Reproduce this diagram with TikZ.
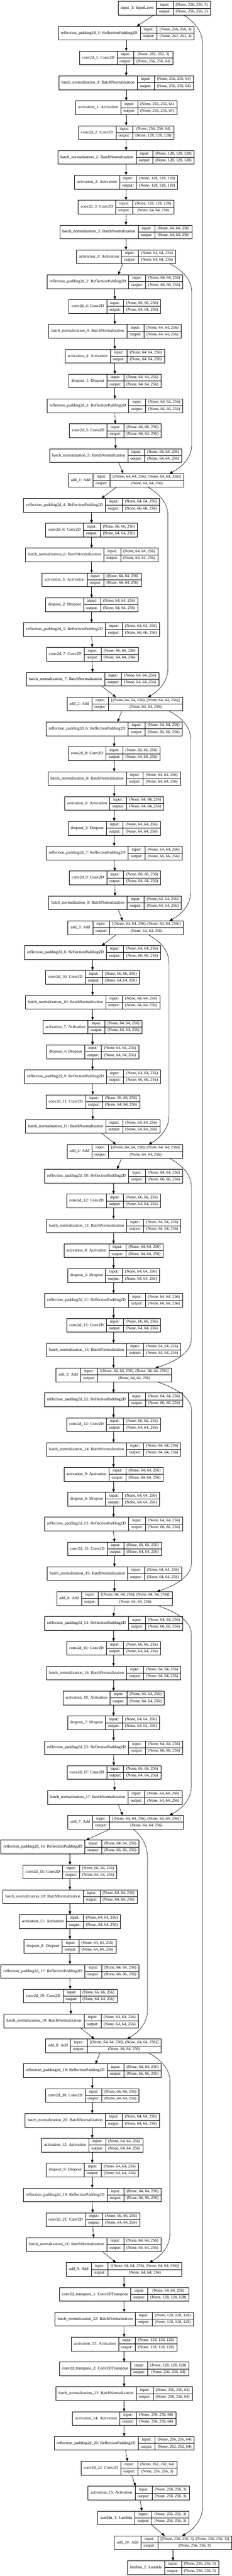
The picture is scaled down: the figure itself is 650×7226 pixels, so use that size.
\documentclass[tikz,border=0pt]{standalone}
\usepackage{fontspec}
\setmainfont{Liberation Serif}
\usetikzlibrary{arrows.meta,calc}
\newdimen\recwa \newdimen\recwb \newdimen\recwc \newdimen\recwt \newdimen\recws \newdimen\recwab
\newbox\recbox
\newcommand\lf{\fontsize{11.4}{13.7}\selectfont}
\def\sA{(None, 64, 64, 256)}
\def\sB{(None, 66, 66, 256)}
\def\sAdd{[(None, 64, 64, 256), (None, 64, 64, 256)]}
% measuring pass (outside the picture, where fonts are active)
\newcommand\measurelayer[6]{%
  \setbox\recbox=\hbox{\lf #4}\recwa=\wd\recbox \advance\recwa by 15pt
  \setbox\recbox=\hbox{\lf output:}\recwb=\wd\recbox \advance\recwb by 15pt
  \setbox\recbox=\hbox{\lf #5}\recwc=\wd\recbox
  \setbox\recbox=\hbox{\lf #6}\ifdim\wd\recbox>\recwc \recwc=\wd\recbox \fi
  \advance\recwc by 15pt
  \expandafter\xdef\csname rwa@#1\endcsname{\the\recwa}%
  \recws=\dimexpr\recwa+\recwb+\recwc\relax
  \expandafter\xdef\csname rws@#1\endcsname{\the\recws}%
  \recwab=\dimexpr\recwa+\recwb\relax
  \expandafter\xdef\csname rwab@#1\endcsname{\the\recwab}%
  \recwt=\dimexpr\recwa/2\relax
  \expandafter\xdef\csname rxa@#1\endcsname{\the\recwt}%
  \recwt=\dimexpr\recwa+\recwb/2\relax
  \expandafter\xdef\csname rxb@#1\endcsname{\the\recwt}%
  \recwt=\dimexpr\recwab+\recwc/2\relax
  \expandafter\xdef\csname rxc@#1\endcsname{\the\recwt}%
}
% drawing pass
\newcommand\drawlayer[6]{%
  \edef\rwa{\csname rwa@#1\endcsname}%
  \edef\rws{\csname rws@#1\endcsname}%
  \edef\rwab{\csname rwab@#1\endcsname}%
  \edef\rxa{\csname rxa@#1\endcsname}%
  \edef\rxb{\csname rxb@#1\endcsname}%
  \edef\rxc{\csname rxc@#1\endcsname}%
  \pgfmathsetmacro\yy{23.2+69.7*#3}%
  \node[rec, minimum width=\rws] (#1) at (#2,\yy) {};%
  \draw[recl] ([xshift=\rwa]#1.north west) -- ([xshift=\rwa]#1.south west);%
  \draw[recl] ([xshift=\rwab]#1.north west) -- ([xshift=\rwab]#1.south west);%
  \draw[recl] ([xshift=\rwa]#1.west) -- (#1.east);%
  \node[txt] at ([xshift=\rxa]#1.west) {#4};%
  \node[txt] at ([xshift=\rxb,yshift=9.6pt]#1.west) {input:};%
  \node[txt] at ([xshift=\rxb,yshift=-9.6pt]#1.west) {output:};%
  \node[txt] at ([xshift=\rxc,yshift=9.6pt]#1.west) {#5};%
  \node[txt] at ([xshift=\rxc,yshift=-9.6pt]#1.west) {#6};%
}
\newcommand\ed[2]{\draw[arr] (#1.south) -- (#2.north);}
\newcommand\eds[4]{\draw[arr] ([xshift=#2]#1.south) -- ([xshift=#4]#3.north);}
\newcommand\skipedge[6]{%
  \coordinate (sa) at ([xshift=#2]#1.south);
  \coordinate (sb) at ([xshift=#4]#3.north);
  \draw[arr] (sa) .. controls ($(sa)+({0.5*#5},16)$) and ($(sa)+(#5,42)$) .. ($(sa)+(#5,80)$)
     -- ($(sb)+(#6,-80)$) .. controls ($(sb)+(#6,-42)$) and ($(sb)+({0.5*#6},-16)$) .. (sb);
}
\def\alllayers{%
\layer{in1}{460.4}{0}{input\_1: InputLayer}{(None, 256, 256, 3)}{(None, 256, 256, 3)}
\layer{rp1}{353.8}{1}{reflection\_padding2d\_1: ReflectionPadding2D}{(None, 256, 256, 3)}{(None, 262, 262, 3)}
\layer{cv1}{353.8}{2}{conv2d\_1: Conv2D}{(None, 262, 262, 3)}{(None, 256, 256, 64)}
\layer{bn1}{353.8}{3}{batch\_normalization\_1: BatchNormalization}{(None, 256, 256, 64)}{(None, 256, 256, 64)}
\layer{ac1}{353.8}{4}{activation\_1: Activation}{(None, 256, 256, 64)}{(None, 256, 256, 64)}
\layer{cv2}{353.8}{5}{conv2d\_2: Conv2D}{(None, 256, 256, 64)}{(None, 128, 128, 128)}
\layer{bn2}{353.3}{6}{batch\_normalization\_2: BatchNormalization}{(None, 128, 128, 128)}{(None, 128, 128, 128)}
\layer{ac2}{353.3}{7}{activation\_2: Activation}{(None, 128, 128, 128)}{(None, 128, 128, 128)}
\layer{cv3}{353.1}{8}{conv2d\_3: Conv2D}{(None, 128, 128, 128)}{(None, 64, 64, 256)}
\layer{bn3}{353.1}{9}{batch\_normalization\_3: BatchNormalization}{\sA}{\sA}
\layer{ac3}{353.1}{10}{activation\_3: Activation}{\sA}{\sA}
\layer{rp2}{321.9}{11}{reflection\_padding2d\_2: ReflectionPadding2D}{\sA}{\sB}
\layer{cv4}{321.9}{12}{conv2d\_4: Conv2D}{\sB}{\sA}
\layer{bn4}{321.9}{13}{batch\_normalization\_4: BatchNormalization}{\sA}{\sA}
\layer{ac4}{321.9}{14}{activation\_4: Activation}{\sA}{\sA}
\layer{dr1}{321.9}{15}{dropout\_1: Dropout}{\sA}{\sA}
\layer{rp3}{321.9}{16}{reflection\_padding2d\_3: ReflectionPadding2D}{\sA}{\sB}
\layer{cv5}{323}{17}{conv2d\_5: Conv2D}{\sB}{\sA}
\layer{bn5}{324.2}{18}{batch\_normalization\_5: BatchNormalization}{\sA}{\sA}
\layer{ad1}{353.1}{19}{add\_1: Add}{\sAdd}{\sA}
\layer{rp4}{256.7}{20}{reflection\_padding2d\_4: ReflectionPadding2D}{\sA}{\sB}
\layer{cv6}{256.7}{21}{conv2d\_6: Conv2D}{\sB}{\sA}
\layer{bn6}{256.7}{22}{batch\_normalization\_6: BatchNormalization}{\sA}{\sA}
\layer{ac5}{256.7}{23}{activation\_5: Activation}{\sA}{\sA}
\layer{dr2}{256.7}{24}{dropout\_2: Dropout}{\sA}{\sA}
\layer{rp5}{256.7}{25}{reflection\_padding2d\_5: ReflectionPadding2D}{\sA}{\sB}
\layer{cv7}{258.7}{26}{conv2d\_7: Conv2D}{\sB}{\sA}
\layer{bn7}{259.4}{27}{batch\_normalization\_7: BatchNormalization}{\sA}{\sA}
\layer{ad2}{349.6}{28}{add\_2: Add}{\sAdd}{\sA}
\layer{rp6}{320}{29}{reflection\_padding2d\_6: ReflectionPadding2D}{\sA}{\sB}
\layer{cv8}{320}{30}{conv2d\_8: Conv2D}{\sB}{\sA}
\layer{bn8}{320}{31}{batch\_normalization\_8: BatchNormalization}{\sA}{\sA}
\layer{ac6}{320}{32}{activation\_6: Activation}{\sA}{\sA}
\layer{dr3}{320}{33}{dropout\_3: Dropout}{\sA}{\sA}
\layer{rp7}{320}{34}{reflection\_padding2d\_7: ReflectionPadding2D}{\sA}{\sB}
\layer{cv9}{322}{35}{conv2d\_9: Conv2D}{\sB}{\sA}
\layer{bn9}{322.5}{36}{batch\_normalization\_9: BatchNormalization}{\sA}{\sA}
\layer{ad3}{352.3}{37}{add\_3: Add}{\sAdd}{\sA}
\layer{rp8}{259.4}{38}{reflection\_padding2d\_8: ReflectionPadding2D}{\sA}{\sB}
\layer{cv10}{259.4}{39}{conv2d\_10: Conv2D}{\sB}{\sA}
\layer{bn10}{259.4}{40}{batch\_normalization\_10: BatchNormalization}{\sA}{\sA}
\layer{ac7}{259.4}{41}{activation\_7: Activation}{\sA}{\sA}
\layer{dr4}{259.4}{42}{dropout\_4: Dropout}{\sA}{\sA}
\layer{rp9}{259.4}{43}{reflection\_padding2d\_9: ReflectionPadding2D}{\sA}{\sB}
\layer{cv11}{260.2}{44}{conv2d\_11: Conv2D}{\sB}{\sA}
\layer{bn11}{260}{45}{batch\_normalization\_11: BatchNormalization}{\sA}{\sA}
\layer{ad4}{349.6}{46}{add\_4: Add}{\sAdd}{\sA}
\layer{rp10}{318.3}{47}{reflection\_padding2d\_10: ReflectionPadding2D}{\sA}{\sB}
\layer{cv12}{318.3}{48}{conv2d\_12: Conv2D}{\sB}{\sA}
\layer{bn12}{318.3}{49}{batch\_normalization\_12: BatchNormalization}{\sA}{\sA}
\layer{ac8}{318.3}{50}{activation\_8: Activation}{\sA}{\sA}
\layer{dr5}{318.3}{51}{dropout\_5: Dropout}{\sA}{\sA}
\layer{rp11}{318.3}{52}{reflection\_padding2d\_11: ReflectionPadding2D}{\sA}{\sB}
\layer{cv13}{318.3}{53}{conv2d\_13: Conv2D}{\sB}{\sA}
\layer{bn13}{318.3}{54}{batch\_normalization\_13: BatchNormalization}{\sA}{\sA}
\layer{ad5}{318.3}{55}{add\_5: Add}{\sAdd}{\sA}
\layer{rp12}{318.3}{56}{reflection\_padding2d\_12: ReflectionPadding2D}{\sA}{\sB}
\layer{cv14}{318.3}{57}{conv2d\_14: Conv2D}{\sB}{\sA}
\layer{bn14}{318.3}{58}{batch\_normalization\_14: BatchNormalization}{\sA}{\sA}
\layer{ac9}{318.3}{59}{activation\_9: Activation}{\sA}{\sA}
\layer{dr6}{318.3}{60}{dropout\_6: Dropout}{\sA}{\sA}
\layer{rp13}{318.3}{61}{reflection\_padding2d\_13: ReflectionPadding2D}{\sA}{\sB}
\layer{cv15}{320.8}{62}{conv2d\_15: Conv2D}{\sB}{\sA}
\layer{bn15}{320.8}{63}{batch\_normalization\_15: BatchNormalization}{\sA}{\sA}
\layer{ad6}{320.8}{64}{add\_6: Add}{\sAdd}{\sA}
\layer{rp14}{318.3}{65}{reflection\_padding2d\_14: ReflectionPadding2D}{\sA}{\sB}
\layer{cv16}{318.3}{66}{conv2d\_16: Conv2D}{\sB}{\sA}
\layer{bn16}{318.3}{67}{batch\_normalization\_16: BatchNormalization}{\sA}{\sA}
\layer{ac10}{318.3}{68}{activation\_10: Activation}{\sA}{\sA}
\layer{dr7}{318.3}{69}{dropout\_7: Dropout}{\sA}{\sA}
\layer{rp15}{318.3}{70}{reflection\_padding2d\_15: ReflectionPadding2D}{\sA}{\sB}
\layer{cv17}{319.2}{71}{conv2d\_17: Conv2D}{\sB}{\sA}
\layer{bn17}{321.7}{72}{batch\_normalization\_17: BatchNormalization}{\sA}{\sA}
\layer{ad7}{352.1}{73}{add\_7: Add}{\sAdd}{\sA}
\layer{rp16}{196}{74}{reflection\_padding2d\_16: ReflectionPadding2D}{\sA}{\sB}
\layer{cv18}{196}{75}{conv2d\_18: Conv2D}{\sB}{\sA}
\layer{bn18}{196}{76}{batch\_normalization\_18: BatchNormalization}{\sA}{\sA}
\layer{ac11}{196}{77}{activation\_11: Activation}{\sA}{\sA}
\layer{dr8}{196}{78}{dropout\_8: Dropout}{\sA}{\sA}
\layer{rp17}{196}{79}{reflection\_padding2d\_17: ReflectionPadding2D}{\sA}{\sB}
\layer{cv19}{196.9}{80}{conv2d\_19: Conv2D}{\sB}{\sA}
\layer{bn19}{199.2}{81}{batch\_normalization\_19: BatchNormalization}{\sA}{\sA}
\layer{ad8}{289.6}{82}{add\_8: Add}{\sAdd}{\sA}
\layer{rp18}{258.5}{83}{reflection\_padding2d\_18: ReflectionPadding2D}{\sA}{\sB}
\layer{cv20}{258.5}{84}{conv2d\_20: Conv2D}{\sB}{\sA}
\layer{bn20}{258.5}{85}{batch\_normalization\_20: BatchNormalization}{\sA}{\sA}
\layer{ac12}{258.5}{86}{activation\_12: Activation}{\sA}{\sA}
\layer{dr9}{258.5}{87}{dropout\_9: Dropout}{\sA}{\sA}
\layer{rp19}{258.5}{88}{reflection\_padding2d\_19: ReflectionPadding2D}{\sA}{\sB}
\layer{cv21}{260}{89}{conv2d\_21: Conv2D}{\sB}{\sA}
\layer{bn21}{262.7}{90}{batch\_normalization\_21: BatchNormalization}{\sA}{\sA}
\layer{ad9}{347.9}{91}{add\_9: Add}{\sAdd}{\sA}
\layer{ct1}{347.9}{92}{conv2d\_transpose\_1: Conv2DTranspose}{\sA}{(None, 128, 128, 128)}
\layer{bn22}{348.1}{93}{batch\_normalization\_22: BatchNormalization}{(None, 128, 128, 128)}{(None, 128, 128, 128)}
\layer{ac13}{347.9}{94}{activation\_13: Activation}{(None, 128, 128, 128)}{(None, 128, 128, 128)}
\layer{ct2}{347.9}{95}{conv2d\_transpose\_2: Conv2DTranspose}{(None, 128, 128, 128)}{(None, 256, 256, 64)}
\layer{bn23}{347.9}{96}{batch\_normalization\_23: BatchNormalization}{(None, 256, 256, 64)}{(None, 256, 256, 64)}
\layer{ac14}{347.9}{97}{activation\_14: Activation}{(None, 256, 256, 64)}{(None, 256, 256, 64)}
\layer{rp20}{348.1}{98}{reflection\_padding2d\_20: ReflectionPadding2D}{(None, 256, 256, 64)}{(None, 262, 262, 64)}
\layer{cv22}{361.5}{99}{conv2d\_22: Conv2D}{(None, 262, 262, 64)}{(None, 256, 256, 3)}
\layer{ac15}{388.5}{100}{activation\_15: Activation}{(None, 256, 256, 3)}{(None, 256, 256, 3)}
\layer{la1}{401.9}{101}{lambda\_1: Lambda}{(None, 256, 256, 3)}{(None, 256, 256, 3)}
\layer{ad10}{484.8}{102}{add\_10: Add}{[(None, 256, 256, 3), (None, 256, 256, 3)]}{(None, 256, 256, 3)}
\layer{la2}{484.8}{103}{lambda\_2: Lambda}{(None, 256, 256, 3)}{(None, 256, 256, 3)}
}
\begin{document}
\let\layer\measurelayer
\alllayers
\let\layer\drawlayer
\begin{tikzpicture}[x=1pt,y=-1pt,
  rec/.style={draw=black, line width=0.9pt, inner sep=0pt, outer sep=0pt, minimum height=38.4pt},
  recl/.style={draw=black, line width=0.9pt},
  txt/.style={inner sep=0pt, font=\lf, text height=7.8pt, text depth=2.4pt},
  arr/.style={draw=black, line width=0.9pt, -{Triangle[length=9pt,width=7pt]}}]
\fill[white] (0,0) rectangle (650,7226);
\useasboundingbox (0,0) rectangle (650,7226);
\alllayers
% ---- main chain edges
\eds{in1}{-29.2}{rp1}{29.5}
\ed{rp1}{cv1}\ed{cv1}{bn1}\ed{bn1}{ac1}\ed{ac1}{cv2}\ed{cv2}{bn2}\ed{bn2}{ac2}\ed{ac2}{cv3}\ed{cv3}{bn3}\ed{bn3}{ac3}
\eds{ac3}{-8.9}{rp2}{9.4}
\ed{rp2}{cv4}\ed{cv4}{bn4}\ed{bn4}{ac4}\ed{ac4}{dr1}\ed{dr1}{rp3}\ed{rp3}{cv5}\ed{cv5}{bn5}
\eds{bn5}{8.1}{ad1}{-7.3}
\eds{ad1}{-26.9}{rp4}{27.9}
\ed{rp4}{cv6}\ed{cv6}{bn6}\ed{bn6}{ac5}\ed{ac5}{dr2}\ed{dr2}{rp5}\ed{rp5}{cv7}\ed{cv7}{bn7}
\eds{bn7}{25.2}{ad2}{-24.6}
\eds{ad2}{-7.9}{rp6}{9.2}
\ed{rp6}{cv8}\ed{cv8}{bn8}\ed{bn8}{ac6}\ed{ac6}{dr3}\ed{dr3}{rp7}\ed{rp7}{cv9}\ed{cv9}{bn9}
\eds{bn9}{8.75}{ad3}{-8.5}
\eds{ad3}{-26}{rp8}{26}
\ed{rp8}{cv10}\ed{cv10}{bn10}\ed{bn10}{ac7}\ed{ac7}{dr4}\ed{dr4}{rp9}\ed{rp9}{cv11}\ed{cv11}{bn11}
\eds{bn11}{24.6}{ad4}{-24.6}
\eds{ad4}{-8.8}{rp10}{10}
\ed{rp10}{cv12}\ed{cv12}{bn12}\ed{bn12}{ac8}\ed{ac8}{dr5}\ed{dr5}{rp11}\ed{rp11}{cv13}\ed{cv13}{bn13}
\ed{bn13}{ad5}
\ed{ad5}{rp12}
\ed{rp12}{cv14}\ed{cv14}{bn14}\ed{bn14}{ac9}\ed{ac9}{dr6}\ed{dr6}{rp13}\ed{rp13}{cv15}\ed{cv15}{bn15}
\ed{bn15}{ad6}
\ed{ad6}{rp14}
\ed{rp14}{cv16}\ed{cv16}{bn16}\ed{bn16}{ac10}\ed{ac10}{dr7}\ed{dr7}{rp15}\ed{rp15}{cv17}\ed{cv17}{bn17}
\eds{bn17}{9.5}{ad7}{-8.4}
\eds{ad7}{-42.9}{rp16}{44.8}
\ed{rp16}{cv18}\ed{cv18}{bn18}\ed{bn18}{ac11}\ed{ac11}{dr8}\ed{dr8}{rp17}\ed{rp17}{cv19}\ed{cv19}{bn19}
\eds{bn19}{25.8}{ad8}{-25}
\eds{ad8}{-9.2}{rp18}{9.4}
\ed{rp18}{cv20}\ed{cv20}{bn20}\ed{bn20}{ac12}\ed{ac12}{dr9}\ed{dr9}{rp19}\ed{rp19}{cv21}\ed{cv21}{bn21}
\eds{bn21}{24}{ad9}{-22.9}
\ed{ad9}{ct1}\ed{ct1}{bn22}\ed{bn22}{ac13}\ed{ac13}{ct2}\ed{ct2}{bn23}\ed{bn23}{ac14}\ed{ac14}{rp20}
\eds{rp20}{3.9}{cv22}{-4}
\eds{cv22}{7.7}{ac15}{-8.5}
\eds{ac15}{4}{la1}{-4}
\eds{la1}{22.3}{ad10}{-23.1}
\ed{ad10}{la2}
% ---- skip connections
\skipedge{in1}{54.2}{ad10}{25.6}{52.9}{57.1}
\skipedge{ac3}{121.9}{ad1}{121.9}{62.5}{62.5}
\skipedge{ad1}{61.5}{ad2}{65}{56.2}{56.2}
\skipedge{ad2}{123.4}{ad3}{122.7}{61.6}{59.6}
\skipedge{ad3}{62.3}{ad4}{67.1}{59.15}{57.05}
\skipedge{ad4}{124.2}{ad5}{117.1}{62.5}{100.85}
\skipedge{ad5}{121.3}{ad6}{118.8}{97.1}{97.1}
\skipedge{ad6}{118.8}{ad7}{122.9}{96.65}{61.25}
\skipedge{ad7}{20.8}{ad8}{66.7}{40.4}{57.05}
\skipedge{ad8}{125}{ad9}{70.9}{61.65}{57.5}
\end{tikzpicture}
\end{document}
